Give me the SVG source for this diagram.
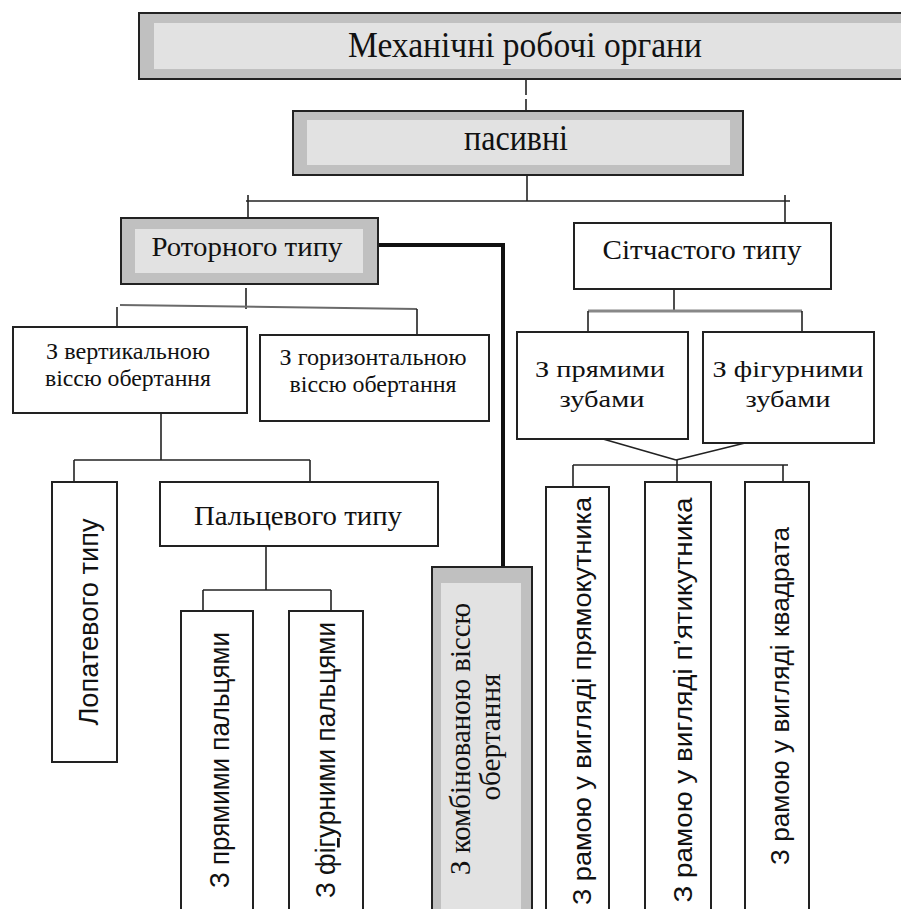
<svg xmlns="http://www.w3.org/2000/svg" width="901" height="909" viewBox="0 0 901 909">
<style>
.bg{fill:#ffffff}
.outer{fill:#c0c0c0;stroke:#222;stroke-width:2}
.inner{fill:#e2e2e2;stroke:none}
.box{fill:#ffffff;stroke:#222;stroke-width:2}
.ser{fill:#111;text-anchor:middle}
.san{fill:#111;text-anchor:middle}
.ln{stroke:#222;stroke-width:1.6;fill:none}
.gl{stroke:#6a6a6a;stroke-width:2;fill:none}
.gt{stroke:#888;stroke-width:3.2;fill:none}
.tk{stroke:#111;stroke-width:4;fill:none}
</style>
<rect class="bg" x="0" y="0" width="901" height="909"/>
<g id="connectors">
<line class="ln" x1="526" y1="79" x2="526" y2="95"/>
<line class="ln" x1="526" y1="99" x2="526" y2="111"/>
<line class="ln" x1="527" y1="175" x2="527" y2="201"/>
<line class="ln" x1="246" y1="201" x2="790" y2="201"/>
<line class="ln" x1="248" y1="195" x2="248" y2="218"/>
<line class="ln" x1="785" y1="195" x2="785" y2="223"/>
<line class="ln" x1="246" y1="288" x2="246" y2="309"/>
<line class="gl" x1="120" y1="305" x2="417" y2="309"/>
<line class="ln" x1="117" y1="307" x2="117" y2="327"/>
<line class="ln" x1="417" y1="309" x2="417" y2="335"/>
<line class="ln" x1="161" y1="413" x2="161" y2="460"/>
<line class="ln" x1="74" y1="460" x2="310" y2="460"/>
<line class="ln" x1="74" y1="460" x2="74" y2="482"/>
<line class="ln" x1="310" y1="460" x2="310" y2="482"/>
<line class="ln" x1="266" y1="546" x2="266" y2="590"/>
<line class="ln" x1="203" y1="590" x2="331" y2="590"/>
<line class="ln" x1="203" y1="590" x2="203" y2="611"/>
<line class="ln" x1="331" y1="590" x2="331" y2="611"/>
<polyline class="tk" points="378,245 503,245 503,567"/>
<line class="ln" x1="674" y1="289" x2="674" y2="311"/>
<line class="gt" x1="588" y1="311" x2="802" y2="311"/>
<line class="ln" x1="588" y1="311" x2="588" y2="332"/>
<line class="ln" x1="802" y1="311" x2="802" y2="332"/>
<line class="ln" x1="603" y1="439" x2="676" y2="460"/>
<line class="ln" x1="745" y1="443" x2="676" y2="460"/>
<line class="ln" x1="677" y1="460" x2="677" y2="482"/>
<line class="ln" x1="573" y1="465" x2="788" y2="465"/>
<line class="ln" x1="573" y1="465" x2="573" y2="487"/>
<line class="ln" x1="783" y1="465" x2="783" y2="482"/>
</g>
<g id="n-mech">
<rect class="outer" x="139" y="13" width="775" height="66"/>
<rect class="inner" x="154" y="23" width="760" height="46"/>
<text class="ser" font-family="Liberation Serif, serif" x="525" y="57" font-size="36" textLength="354" lengthAdjust="spacingAndGlyphs">Механічні робочі органи</text>
</g>
<g id="n-pasyvni">
<rect class="outer" x="293" y="111" width="450" height="64"/>
<rect class="inner" x="307" y="120" width="423" height="45"/>
<text class="ser" font-family="Liberation Serif, serif" x="516" y="150" font-size="35" textLength="104" lengthAdjust="spacingAndGlyphs">пасивні</text>
</g>
<g id="n-rotor">
<rect class="outer" x="121" y="218" width="257" height="66"/>
<rect class="inner" x="135" y="229" width="228" height="44"/>
<text class="ser" font-family="Liberation Serif, serif" x="247" y="256" font-size="27" textLength="191" lengthAdjust="spacingAndGlyphs">Роторного типу</text>
</g>
<g id="n-sitch">
<rect class="box" x="574" y="223" width="257" height="66"/>
<text class="ser" font-family="Liberation Serif, serif" x="702" y="259" font-size="27" textLength="199" lengthAdjust="spacingAndGlyphs">Сітчастого типу</text>
</g>
<g id="n-vert">
<rect class="box" x="13" y="327" width="234" height="86"/>
<text class="ser" font-family="Liberation Serif, serif" x="128" y="359" font-size="24" textLength="164" lengthAdjust="spacingAndGlyphs">З вертикальною</text>
<text class="ser" font-family="Liberation Serif, serif" x="128" y="386" font-size="24" textLength="166" lengthAdjust="spacingAndGlyphs">віссю обертання</text>
</g>
<g id="n-horiz">
<rect class="box" x="260" y="335" width="229" height="86"/>
<text class="ser" font-family="Liberation Serif, serif" x="373" y="365" font-size="24" textLength="187" lengthAdjust="spacingAndGlyphs">З горизонтальною</text>
<text class="ser" font-family="Liberation Serif, serif" x="373" y="392" font-size="24" textLength="167" lengthAdjust="spacingAndGlyphs">віссю обертання</text>
</g>
<g id="n-pryami-zuby">
<rect class="box" x="517" y="332" width="171" height="107"/>
<text class="ser" font-family="Liberation Serif, serif" x="600" y="377" font-size="24" textLength="130" lengthAdjust="spacingAndGlyphs">З прямими</text>
<text class="ser" font-family="Liberation Serif, serif" x="602" y="407" font-size="24" textLength="85" lengthAdjust="spacingAndGlyphs">зубами</text>
</g>
<g id="n-fig-zuby">
<rect class="box" x="703" y="332" width="171" height="111"/>
<text class="ser" font-family="Liberation Serif, serif" x="788" y="377" font-size="24" textLength="151" lengthAdjust="spacingAndGlyphs">З фігурними</text>
<text class="ser" font-family="Liberation Serif, serif" x="788" y="407" font-size="24" textLength="85" lengthAdjust="spacingAndGlyphs">зубами</text>
</g>
<g id="n-lopat">
<rect class="box" x="52" y="482" width="65" height="280"/>
<text class="san" font-family="Liberation Sans, Arial, sans-serif" transform="translate(98,622) rotate(-90)" font-size="28" textLength="207" lengthAdjust="spacingAndGlyphs">Лопатевого типу</text>
</g>
<g id="n-palts">
<rect class="box" x="160" y="482" width="278" height="64"/>
<text class="ser" font-family="Liberation Serif, serif" x="298" y="525" font-size="28" textLength="208" lengthAdjust="spacingAndGlyphs">Пальцевого типу</text>
</g>
<g id="n-pryami-palts">
<rect class="box" x="181" y="611" width="72" height="310"/>
<text class="san" font-family="Liberation Sans, Arial, sans-serif" transform="translate(229,760) rotate(-90)" font-size="28" textLength="256" lengthAdjust="spacingAndGlyphs">З прямими пальцями</text>
</g>
<g id="n-fig-palts">
<rect class="box" x="289" y="611" width="74" height="310"/>
<text class="san" font-family="Liberation Sans, Arial, sans-serif" transform="translate(335,760) rotate(-90)" font-size="28" textLength="276" lengthAdjust="spacingAndGlyphs">З фі<tspan text-decoration="underline">г</tspan>урними пальцями</text>
</g>
<g id="n-komb">
<rect class="outer" x="432" y="567" width="100" height="360"/>
<rect class="inner" x="441" y="583" width="80" height="340"/>
<text class="ser" font-family="Liberation Serif, serif" transform="translate(470,739) rotate(-90)" font-size="29" textLength="272" lengthAdjust="spacingAndGlyphs">З комбінованою віссю</text>
<text class="ser" font-family="Liberation Serif, serif" transform="translate(500,737) rotate(-90)" font-size="29" textLength="127" lengthAdjust="spacingAndGlyphs">обертання</text>
</g>
<g id="n-pryamokut">
<rect class="box" x="546" y="487" width="63" height="440"/>
<text class="san" font-family="Liberation Sans, Arial, sans-serif" transform="translate(591,701) rotate(-90)" font-size="26" textLength="408" lengthAdjust="spacingAndGlyphs">З рамою у вигляді прямокутника</text>
</g>
<g id="n-pyatykut">
<rect class="box" x="645" y="482" width="66" height="445"/>
<text class="san" font-family="Liberation Sans, Arial, sans-serif" transform="translate(692,700) rotate(-90)" font-size="26" textLength="405" lengthAdjust="spacingAndGlyphs">З рамою у вигляді п’ятикутника</text>
</g>
<g id="n-kvadrat">
<rect class="box" x="745" y="482" width="64" height="445"/>
<text class="san" font-family="Liberation Sans, Arial, sans-serif" transform="translate(789,696) rotate(-90)" font-size="26" textLength="338" lengthAdjust="spacingAndGlyphs">З рамою у вигляді квадрата</text>
</g>
</svg>
